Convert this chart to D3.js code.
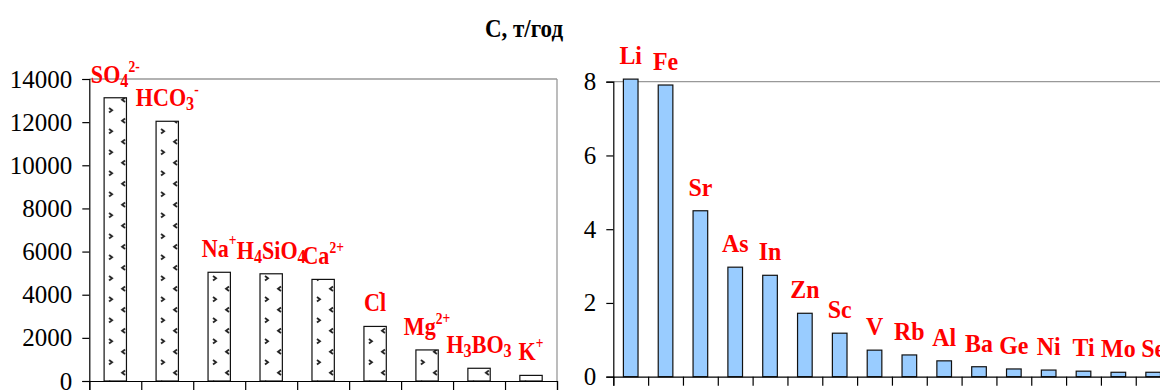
<!DOCTYPE html>
<html>
<head>
<meta charset="utf-8">
<script src="https://cdn.jsdelivr.net/npm/d3@7"></script>
<style>
  body { margin: 0; background: #fff; }
  text { font-family: "Liberation Serif", "Times New Roman", serif; }
</style>
</head>
<body>
<svg id="chart"></svg>
<script>
// ions (left panel), t/year ; "_" = subscript digit, "^" = superscript
const ions = ["SO_4^2-", "HCO_3^-", "Na^+", "H_4SiO_4", "Ca^2+", "Cl^-", "Mg^2+", "H_3BO_3", "K^+"]
const ionValues = [13130, 12040, 5040, 4970, 4710, 2530, 1440, 590, 260]
const ionTicks = [0, 2000, 4000, 6000, 8000, 10000, 12000, 14000]

// trace elements (right panel)
const elements = ["Li", "Fe", "Sr", "As", "In", "Zn", "Sc", "V", "Rb", "Al", "Ba", "Ge", "Ni", "Ti", "Mo", "Se"]
const elementValues = [8.07, 7.91, 4.50, 2.97, 2.75, 1.72, 1.18, 0.72, 0.59, 0.43, 0.27, 0.21, 0.18, 0.15, 0.12, 0.12]
const elementTicks = [0, 2, 4, 6, 8]

const title = "С, т/год"

const W = 1160, H = 390
const svg = d3.select("#chart").attr("width", W).attr("height", H)

// pattern of small chevrons for the ion bars
const pat = svg.append("defs").append("pattern")
    .attr("id", "chev")
    .attr("patternUnits", "userSpaceOnUse")
    .attr("width", 26).attr("height", 21)
pat.append("rect").attr("width", 26).attr("height", 21).attr("fill", "#fff")
pat.append("path").attr("d", "M5,3 l3,2.2 l-3,2.2").attr("fill", "none").attr("stroke", "#222").attr("stroke-width", 1.8)
pat.append("path").attr("d", "M21,13.5 l-3,2.2 l3,2.2").attr("fill", "none").attr("stroke", "#222").attr("stroke-width", 1.8)

// label with sub/superscripts
const richText = (sel, s) => {
    let shift = 0
    const parts = s.match(/_\d|\^[^_^]+|[^_^]+/g)
    parts.forEach((p, i) => {
        const kind = p[0] === "_" ? "sub" : p[0] === "^" ? "sup" : "base"
        let target = kind === "sub" ? 4 : kind === "sup" ? -11 : 0
        const prevL = i > 0 && parts[i - 1].endsWith("l")
        if (kind === "sup" && prevL) target = -14
        const t = sel.append("tspan")
            .attr("dy", target - shift)
            .text(kind === "base" ? p : p.slice(1))
        if (kind === "sub") t.attr("font-size", 19)
        if (kind === "sup") t.attr("font-size", 16)
        if (kind === "sup" && prevL) t.attr("dx", -9)
        shift = target
    })
}

const panel = (cfg) => {
    const n = cfg.cats.length
    const xi = d3.scaleLinear().domain([0, n]).range([cfg.x0, cfg.x1])
    const xb = d3.scaleBand().domain(cfg.cats).range([cfg.x0, cfg.x1]).padding(0)
    const y = d3.scaleLinear().domain([0, cfg.max]).range([cfg.y0, cfg.y1])
    const g = svg.append("g")

    // plot area border (grey)
    g.append("line")
        .attr("x1", cfg.x0).attr("x2", Math.min(cfg.x1, W))
        .attr("y1", y(cfg.max)).attr("y2", y(cfg.max))
        .attr("stroke", "#999").attr("stroke-width", 1.3)
    if (cfg.x1 <= W) {
        g.append("line")
            .attr("x1", cfg.x1).attr("x2", cfg.x1)
            .attr("y1", y(cfg.max)).attr("y2", cfg.y0)
            .attr("stroke", "#999").attr("stroke-width", 1.3)
    }

    const bw = xb.bandwidth() * cfg.barRatio
    const bars = g.selectAll("g.bar")
        .data(cfg.values)
        .join("g")
        .attr("class", "bar")
        .attr("transform", (d, i) => `translate(${xb(cfg.cats[i]) + (xb.bandwidth() - bw) / 2},0)`)
    bars.append("rect")
        .attr("x", 0)
        .attr("y", d => y(d))
        .attr("width", bw)
        .attr("height", d => cfg.y0 - y(d))
        .attr("fill", cfg.fill)
        .attr("stroke", "#111")
        .attr("stroke-width", 1.2)

    // y axis
    const ya = g.append("g")
        .attr("transform", `translate(${cfg.x0},0)`)
        .call(d3.axisLeft(y).tickValues(cfg.ticks).tickSize(7).tickPadding(10).tickFormat(d3.format("d")))
    ya.attr("font-family", null)
    ya.select(".domain").attr("stroke", "#000").attr("stroke-width", 1.2)
    ya.selectAll(".tick line").attr("stroke", "#000").attr("stroke-width", 1.2)
    ya.selectAll("text").attr("font-size", 25).attr("fill", "#000")

    // x axis with ticks between categories
    const xa = g.append("g")
        .attr("transform", `translate(0,${cfg.y0})`)
        .call(d3.axisBottom(xi).tickValues(d3.range(n + 1)).tickSize(9).tickFormat(""))
    xa.select(".domain").attr("stroke", "#000").attr("stroke-width", 1.2)
    xa.selectAll(".tick line").attr("stroke", "#000").attr("stroke-width", 1.2)

    // red labels above the bars
    g.selectAll("text.lab")
        .data(cfg.values)
        .join("text")
        .attr("class", "lab")
        .attr("transform", (d, i) => `translate(${xb(cfg.cats[i]) + xb.bandwidth() / 2},${y(d) - 15}) scale(${cfg.squeeze},1)`)
        .attr("text-anchor", "middle")
        .attr("fill", "#ff0000")
        .attr("font-weight", "bold")
        .attr("font-size", 26)
        .each(function (d, i) { richText(d3.select(this), cfg.cats[i]) })
}

panel({
    cats: ions, values: ionValues, ticks: ionTicks, max: 14000,
    x0: 89.3, x1: 557, y0: 381, y1: 79,
    barRatio: 0.43, fill: "url(#chev)", squeeze: 0.85
})

panel({
    cats: elements, values: elementValues, ticks: elementTicks, max: 8,
    x0: 613.3, x1: 613.3 + 16 * 34.83, y0: 376.7, y1: 81.7,
    barRatio: 0.42, fill: "#99ccff", squeeze: 0.92
})

svg.append("text")
    .attr("transform", "translate(524,37) scale(0.92,1)")
    .attr("text-anchor", "middle")
    .attr("font-weight", "bold")
    .attr("font-size", 25)
    .attr("fill", "#000")
    .text(title)
</script>
</body>
</html>
